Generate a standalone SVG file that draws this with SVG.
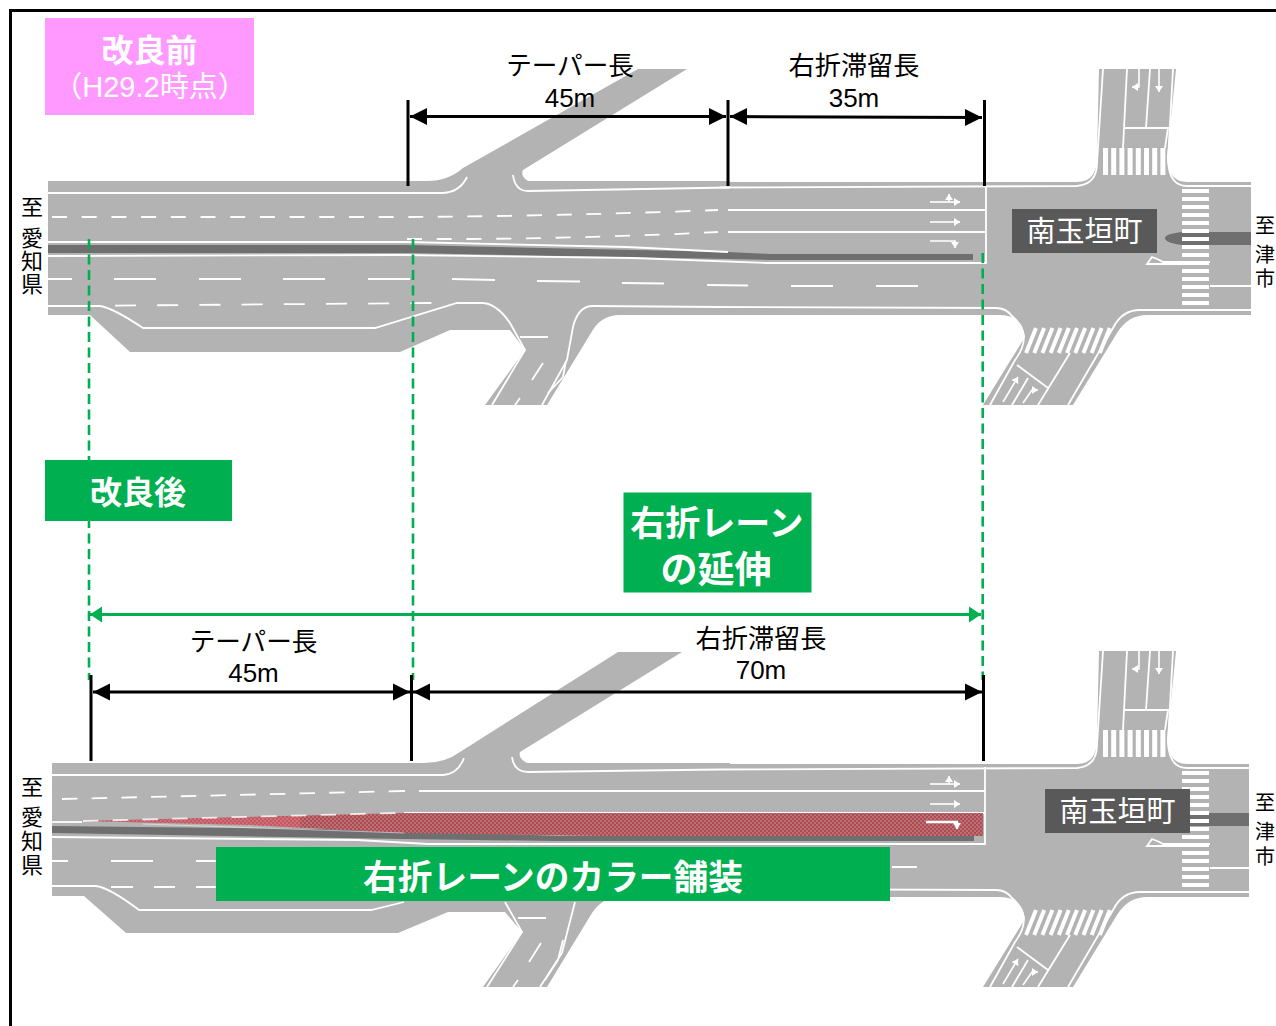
<svg xmlns="http://www.w3.org/2000/svg" width="1276" height="1026" viewBox="0 0 1276 1026">
<style>
text{font-family:"Liberation Sans","Noto Sans CJK JP",sans-serif;text-anchor:middle}
.w{fill:#fff}.b{font-weight:700}.k{fill:#000}
.road{fill:#b3b3b3}
.ln{fill:none;stroke:#fff;stroke-width:1.8}
.ar{fill:none;stroke:#fff;stroke-width:1.6}
.dk{fill:#6f6f6f}
.dim{fill:none;stroke:#000;stroke-width:3}
.gd{fill:none;stroke:#00b050;stroke-width:2.6;stroke-dasharray:10 5.5}
</style>
<defs>
<marker id="ab" markerUnits="userSpaceOnUse" markerWidth="18" markerHeight="18" viewBox="0 0 18 18" refX="17" refY="9" orient="auto-start-reverse"><path d="M0 0.5L17 9L0 17.5Z" fill="#000"/></marker>
<marker id="ag" markerUnits="userSpaceOnUse" markerWidth="13" markerHeight="18" viewBox="0 0 13 18" refX="12" refY="9" orient="auto-start-reverse"><path d="M0 1L12 9L0 17Z" fill="#00b050"/></marker>
<marker id="aw" markerUnits="userSpaceOnUse" markerWidth="7" markerHeight="8" viewBox="0 0 7 8" refX="6" refY="4" orient="auto"><path d="M0 0L6 4L0 8Z" fill="#fff"/></marker>
<pattern id="red" width="4" height="4" patternUnits="userSpaceOnUse"><rect width="4" height="4" fill="#b04a52"/><circle cx="1" cy="1" r="0.8" fill="#c9a4a6"/><circle cx="3" cy="3" r="0.8" fill="#c9a4a6"/></pattern>
<clipPath id="cb"><rect x="0" y="600" width="1249" height="426"/></clipPath>
<g id="junction">
<path class="road" d="M720 182H1077Q1097 182 1097 157L1099 69H1176L1167 157Q1168 182 1187 182H1251V315H1147Q1128 315 1117 333L1073 405H983L1025 337Q1022 315 1000 315H720Z"/>
<path class="ln" d="M720 187.500L1077 186Q1097 184 1097 163L1103 69M1173 69L1168 160Q1169 186 1187 186H1251M1251 310H1140Q1122 310 1113 328L1068 405M990 405L1015 360Q1034 335 1012 316Q1006 308 996 308L720 307"/>
<path class="ln" d="M1127 69L1123 148M1150 69L1146 128M1124 128H1168L1165 148M1017 365L1048 388M1070 353L1038 405M1028 378L1012 405M1210 286H1251M1210 262H1163Q1158 259 1152 257L1147 264H1182"/>
<path fill="#fff" d="M1103 148h5v27h-5zM1111.200 148h5v27h-5zM1119.400 148h5v27h-5zM1127.600 148h5v27h-5zM1135.800 148h5v27h-5zM1144 148h5v27h-5zM1152.200 148h5v27h-5zM1160.400 148h5v27h-5z"/>
<path fill="#fff" d="M1182 189h27v4h-27zM1182 197h27v4h-27zM1182 205h27v4h-27zM1182 213h27v4h-27zM1182 221h27v4h-27zM1182 229h27v4h-27zM1182 237h27v4h-27zM1182 245h27v4h-27zM1182 253h27v4h-27zM1182 261h27v4h-27zM1182 269h27v4h-27zM1182 277h27v4h-27zM1182 285h27v4h-27zM1182 293h27v4h-27zM1182 301h27v4h-27z"/>
<path fill="none" stroke="#fff" stroke-width="4" d="M1036 328L1026 353M1044.200 328L1034.200 353M1052.400 328L1042.400 353M1060.600 328L1050.600 353M1068.800 328L1058.800 353M1077 328L1067 353M1085.200 328L1075.200 353M1093.400 328L1083.400 353M1101.600 328L1091.600 353M1109.800 328L1099.800 353"/>
<path class="ar" d="M930 202H960" marker-end="url(#aw)"/>
<path class="ar" d="M949 202V194" marker-end="url(#aw)"/>
<path class="ar" d="M930 222H960" marker-end="url(#aw)"/>
<path class="ar" d="M1159 69V92" marker-end="url(#aw)"/>
<path class="ar" d="M1139 69V87H1132" marker-end="url(#aw)"/>
<path class="ar" d="M1003 402L1018 377" marker-end="url(#aw)"/>
<path class="ar" d="M1023 403L1032 390H1038" marker-end="url(#aw)"/>
</g>
</defs>
<path id="frame" d="M10.500 1026V10.500H1276" fill="none" stroke="#000" stroke-width="3"/>

<g id="road-before">
<path class="road" d="M48 181H427Q448 181 463 168L638 69H687L523 170Q520 176 528 181H730V315H618Q600 316 591 333L547 405H485L525 350L510 330H450L400 352H130L90 315H48Z"/>
<use href="#junction"/>
<path class="dk" d="M48 245H407L728 252L770 254H973V260H770L728 259L407 253H48Z"/>
<g class="ln">
<path d="M48 193H443Q460 192 467 177M513 175Q515 191 528 191L730 187.500"/>
<path d="M48 242L407 242L627 247L728 252"/>
<path d="M48 256L400 255L633 258L767 263H986M986 187V264"/>
<path d="M728 210H986M728 232H986"/>
<path d="M48 306H100Q113 308 143 328H375L457 303H483Q497 304 510 323L525 350L492 405M520 337H548M543 363L532 380M520 398L515 405"/>
<path d="M542 405L567 360L573 327Q578 306 593 306L720 307"/>
<path d="M566 361L563 377L548 393"/>
<path d="M48 279H72M114 279H156M199 279H241M283 279H325M368 279H410M452 279L495 280M537 281L580 281.500M622 283L664 283.500M707 285L748 285.500M791 286H833M876 286H918"/>
<path d="M52 217H410Q560 216 718 210" stroke-dasharray="15 14.700"/>
<path d="M407 239H470Q600 238 718 232" stroke-dasharray="15 14.700"/>
<path d="M115 305.600L433 303" stroke-dasharray="21 21.200"/>
</g>
<path class="ar" d="M930 241H955V248" marker-end="url(#aw)"/>
</g>

<g id="road-after">
<path class="road" d="M52 763H424Q445 763 460 752L618 652H682L520 752Q518 758 527 763H730V897H618Q602 898 592 913L547 987H483L522 932L505 912H448L398 933H126L84 896H52Z"/>
<g clip-path="url(#cb)"><use href="#junction" y="582"/></g>
<path class="dk" d="M52 826L404 830L557 836H974V841H557L404 839L52 833Z"/>
<g class="ln">
<path d="M52 775H443Q458 774 464 758M512 757Q514 772 528 772L720 769.500"/>
<path d="M419 791H985M400 791H405M404 813H985"/>
<path d="M52 837L357 840L428 844H985M985 767V845"/>
<path d="M52 822H82"/>
<path d="M52 861H68M111 861H153M196 861H230M892 867H917"/>
<path d="M52 886H96Q110 888 139 910H371L404 902M505 902L522 932L487 987M518 918H546M541 943L529 962M518 980L513 987"/>
<path d="M540 987L562 953L567 933L575 902M563 940L558 960L545 980"/>
<path d="M62 799L405 791" stroke-dasharray="15.500 14.200"/>
<path d="M111 887H133M154 887H175M196 887H230"/>
</g>
<path id="color-pavement" fill="url(#red)" d="M82 821L404 813H983V836H600L404 833L250 825Z"/>
<path d="M82 821L300 816L300 828L250 825Z" fill="#f07080" opacity="0.35"/>
<path d="M83 821L396 813" fill="none" stroke="#fff" stroke-width="1.8" stroke-dasharray="15.500 14.200" opacity="0.8"/>
<path d="M143 824L404 833" fill="none" stroke="#fff" stroke-width="1" opacity="0.5"/>
<path d="M926 822H957V829" fill="none" stroke="#fff" stroke-width="2.400" marker-end="url(#aw)"/>
</g>

<g id="connectors">
<path class="gd" d="M89 239V680M413 239V680M982.700 253V680"/>
<path d="M90 614.500H981" fill="none" stroke="#00b050" stroke-width="3" marker-start="url(#ag)" marker-end="url(#ag)"/>
<path class="dim" d="M408 100V186M728 100V186M984.500 100V186M91 675V761M411.500 675V761M983.500 675V761"/>
<path class="dim" d="M410 116.500H726" marker-start="url(#ab)" marker-end="url(#ab)"/>
<path class="dim" d="M730 116.500L982 117.500" marker-start="url(#ab)" marker-end="url(#ab)"/>
<path class="dim" d="M93 692H410" marker-start="url(#ab)" marker-end="url(#ab)"/>
<path class="dim" d="M413 692H982" marker-start="url(#ab)" marker-end="url(#ab)"/>
</g>

<g id="label-before"><rect x="45" y="18" width="209" height="97" fill="#ff99ff"/>
<text class="w b" x="149.500" y="62" font-size="32">改良前</text>
<text class="w" x="150" y="97" font-size="29">（H29.2時点）</text></g>
<g id="label-after"><rect x="45" y="460" width="187" height="61" fill="#00b050"/>
<text class="w b" x="138" y="504" font-size="32">改良後</text></g>
<g id="label-extend"><rect x="623.500" y="492.500" width="188" height="100" fill="#00b050"/>
<text class="w b" x="717" y="536" font-size="35">右折レーン</text>
<text class="w b" x="716" y="583" font-size="37">の延伸</text></g>
<g id="label-color"><rect x="216" y="847" width="674" height="54" fill="#00b050"/>
<text class="w b" x="553" y="890" font-size="34.700">右折レーンのカラー舗装</text></g>

<g id="dim-before-taper"><text class="k" x="570" y="75" font-size="25.600">テーパー長</text><text class="k" x="570" y="107" font-size="26">45m</text></g>
<g id="dim-before-storage"><text class="k" x="854" y="75" font-size="26.200">右折滞留長</text><text class="k" x="854" y="107" font-size="26">35m</text></g>
<g id="dim-after-taper"><text class="k" x="253.500" y="651" font-size="25.600">テーパー長</text><text class="k" x="253.500" y="682" font-size="26">45m</text></g>
<g id="dim-after-storage"><text class="k" x="761" y="648" font-size="26.200">右折滞留長</text><text class="k" x="761" y="679" font-size="26">70m</text></g>

<g id="place-before-left" font-size="22"><text class="k" x="32" y="215">至</text><text class="k" x="32" y="246">愛</text><text class="k" x="32" y="269">知</text><text class="k" x="32" y="292">県</text></g>
<g id="place-after-left" font-size="22"><text class="k" x="32" y="795">至</text><text class="k" x="32" y="825">愛</text><text class="k" x="32" y="849">知</text><text class="k" x="32" y="873">県</text></g>
<g id="place-before-right" font-size="20"><text class="k" x="1265" y="233">至</text><text class="k" x="1265" y="262">津</text><text class="k" x="1265" y="286">市</text></g>
<g id="place-after-right" font-size="20"><text class="k" x="1265" y="810">至</text><text class="k" x="1265" y="839">津</text><text class="k" x="1265" y="864">市</text></g>

<g id="median-east-before"><path class="dk" d="M1251 232V245H1182Q1165 243 1165 238Q1165 234 1182 232Z"/><path fill="#fff" d="M1182 232h27v1h-27zM1182 237h27v4h-27z"/></g>
<g id="median-east-after"><rect x="1190" y="813" width="59" height="13" class="dk"/><path fill="#fff" d="M1190 813h19v2h-19zM1190 819h19v4h-19z"/></g>
<g id="junction-before"><rect x="1012" y="209" width="145" height="44" fill="#595959"/><text class="w" x="1084.500" y="242" font-size="29">南玉垣町</text></g>
<g id="junction-after"><rect x="1045" y="789" width="145" height="44" fill="#595959"/><text class="w" x="1117.500" y="822" font-size="29">南玉垣町</text></g>
</svg>
